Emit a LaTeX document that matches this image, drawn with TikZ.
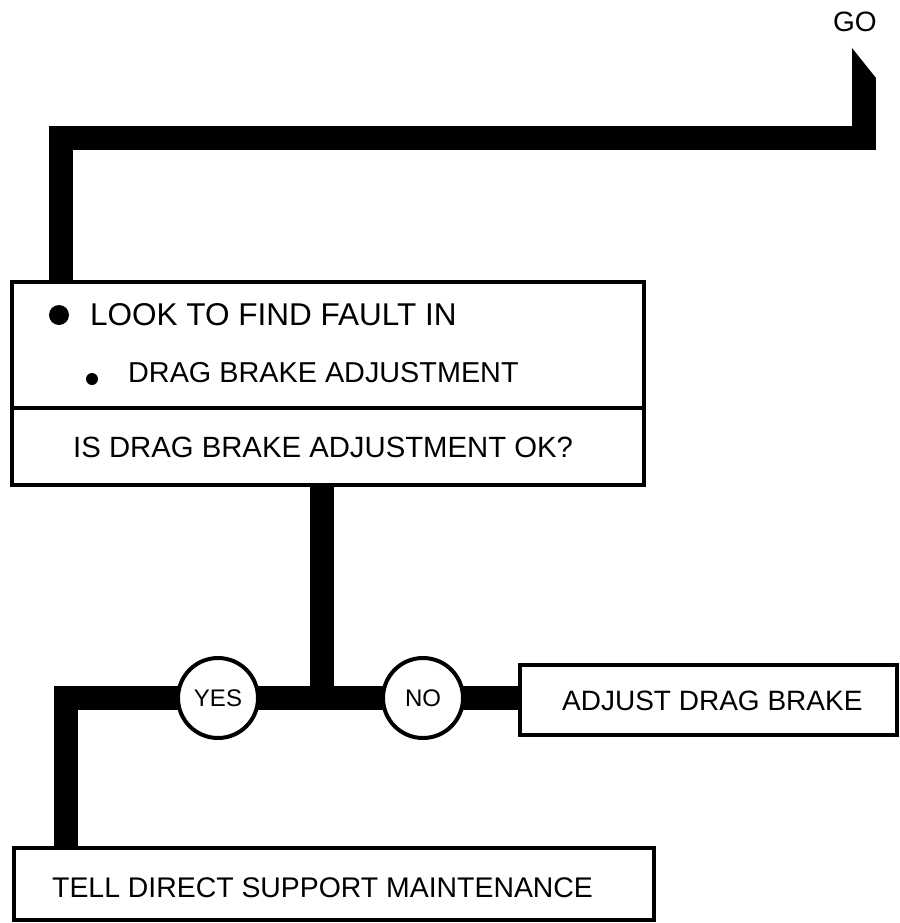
\documentclass[tikz,border=0pt]{standalone}
\usepackage{fontspec}
\setmainfont{Liberation Sans}
\usetikzlibrary{calc,backgrounds}
\begin{document}
\begin{tikzpicture} [x=1pt, y=-1pt,
    box/.style={draw, line width=3.5pt, inner sep=0pt, outer sep=0pt, anchor=north west},
    txt/.style={anchor=west, inner sep=0pt, font=\fontsize{28}{30}\selectfont},
    answer/.style={circle, draw, fill=white, line width=4pt, minimum size=80pt,
      inner sep=0pt, font=\fontsize{24}{26}\selectfont},
    bar/.style={line width=24pt}]
  \useasboundingbox (0,0) rectangle (899,923);

  \node[txt] (golabel) at (833,22) {GO};
  \coordinate (go) at (864,78);

  \node[box, minimum width=632pt, minimum height=126pt] (look) at (12,282) {};
  \node[box, minimum width=632pt, minimum height=77pt] (check) at (12,408) {};
  \node[txt, font=\fontsize{31.5}{33}\selectfont] (fault) at (90,315) {LOOK TO FIND FAULT IN};
  \node[txt, font=\fontsize{28.8}{30}\selectfont] (item) at (128,373) {DRAG BRAKE ADJUSTMENT};
  \node[txt, font=\fontsize{29.3}{31}\selectfont] (question) at (73,447) {IS DRAG BRAKE ADJUSTMENT OK?};
  \fill (59,315) circle[radius=10pt];
  \fill (92,379) circle[radius=6pt];

  \node[answer] (yes) at (218,698) {YES};
  \node[answer] (no) at (423,698) {NO};
  \coordinate (fork) at (321.5,698);

  \node[box, minimum width=377pt, minimum height=70pt] (adjust) at (520,665) {};
  \node[txt] (adjusttext) at (562,701) {ADJUST DRAG BRAKE};
  \node[box, minimum width=640pt, minimum height=72pt] (tell) at (14,848) {};
  \node[txt, font=\fontsize{28.4}{30}\selectfont] (telltext) at (52,888) {TELL DIRECT SUPPORT MAINTENANCE};

  \begin{scope}[on background layer]
    \draw[bar] (go) -- (864,138) -| ($(look.north west)+(48.5,0)$);
    \fill ($(go)+(-12,-30)$) -- ($(go)+(12,0)$) -- ($(go)+(-12,0)$) -- cycle;
    \draw[bar] (check.south -| fork) -- (fork);
    \draw[bar] (no.center) -- (yes.center) -| ($(tell.north west)+(51.5,0)$);
    \draw[bar] (no.center) -- (no.center -| adjust.west);
  \end{scope}
\end{tikzpicture}
\end{document}
